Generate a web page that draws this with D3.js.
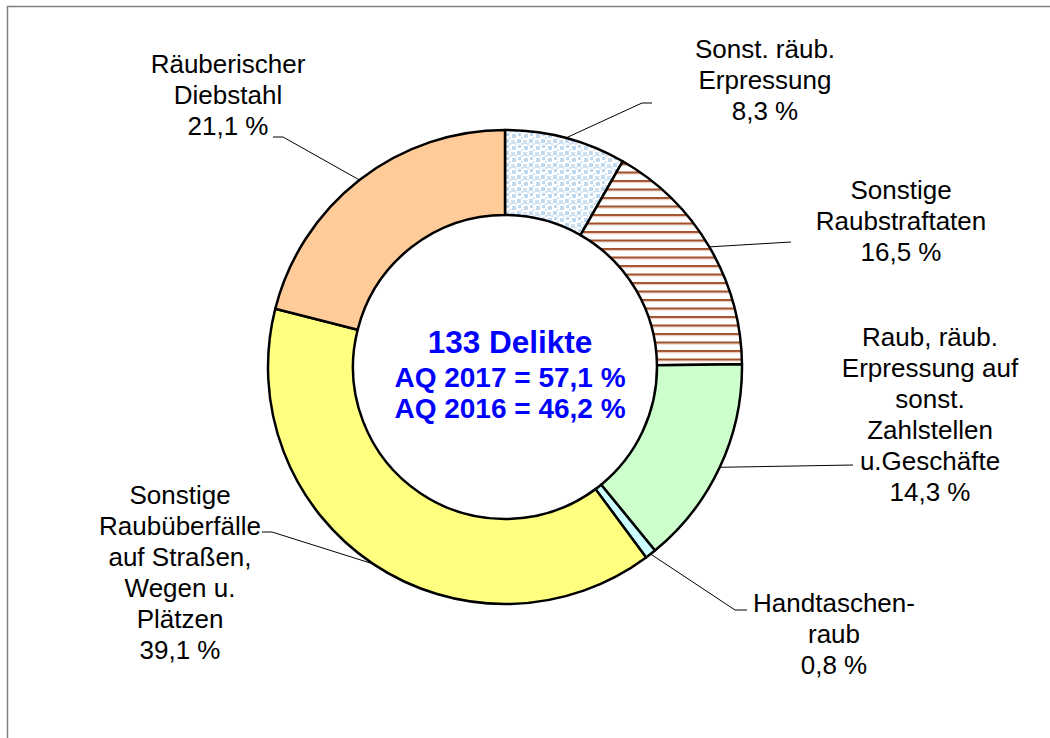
<!DOCTYPE html>
<html>
<head>
<meta charset="utf-8">
<script src="https://cdn.jsdelivr.net/npm/d3@7"></script>
<style>
  body { margin: 0; background: #fff; }
  svg { display: block; font-family: "Liberation Sans", Arial, sans-serif; }
</style>
</head>
<body>
<div id="chart"></div>
<script>
// slice data, clockwise from 12 o'clock
const categories = ['Sonst. räub. Erpressung', 'Sonstige Raubstraftaten', 'Raub, räub. Erpressung auf sonst. Zahlstellen u.Geschäfte', 'Handtaschenraub', 'Sonstige Raubüberfälle auf Straßen, Wegen u. Plätzen', 'Räuberischer Diebstahl'];
const counts = [11, 22, 19, 1, 52, 28];
const percents = ['8,3 %', '16,5 %', '14,3 %', '0,8 %', '39,1 %', '21,1 %'];
const labelLines = [
    ['Sonst. räub.', 'Erpressung'],
    ['Sonstige', 'Raubstraftaten'],
    ['Raub, räub.', 'Erpressung auf', 'sonst.', 'Zahlstellen', 'u.Geschäfte'],
    ['Handtaschen-', 'raub'],
    ['Sonstige', 'Raubüberfälle', 'auf Straßen,', 'Wegen u.', 'Plätzen'],
    ['Räuberischer', 'Diebstahl']
];
const centerLines = ['133 Delikte', 'AQ 2017 = 57,1 %', 'AQ 2016 = 46,2 %'];

const fills = ['url(#dots)', 'url(#stripes)', '#CCFFCC', '#CCFFFF', '#FFFF80', '#FFCC99'];

// label layout: text centre x, first baseline, leader end point and elbow
const labelPos = [
    {x: 765, y: 58, end: [652, 103], elbow: [642, 103]},
    {x: 901, y: 199, end: [791, 242], elbow: null},
    {x: 930, y: 346, end: [853, 465], elbow: null},
    {x: 834, y: 612, end: [747, 610], elbow: [735, 610]},
    {x: 180, y: 504, end: [262, 532], elbow: [272, 532]},
    {x: 228, y: 73, end: [273, 137], elbow: [283, 137]}
];

const width = 1050, height = 738;
const cx = 505, cy = 367, outerR = 237, innerR = 152;
const lineH = 31;

const svg = d3.select('#chart').append('svg')
    .attr('width', width)
    .attr('height', height);

const defs = svg.append('defs');

// dotted fill
const dots = defs.append('pattern')
    .attr('id', 'dots')
    .attr('patternUnits', 'userSpaceOnUse')
    .attr('width', 12).attr('height', 12);
dots.append('rect').attr('width', 12).attr('height', 12).attr('fill', '#fff');
[[0, 0, 4, '#C2DAF0'], [6, 1, 4, '#CFE2F3'], [1, 6, 3, '#BDD7EE'], [7, 7, 4, '#C2DAF0'], [4, 10, 2, '#D3E4F4'], [10, 4, 2, '#D3E4F4'], [4, 4, 2, '#CFE2F3']]
    .forEach(d => dots.append('rect')
        .attr('x', d[0]).attr('y', d[1])
        .attr('width', d[2]).attr('height', d[2])
        .attr('fill', d[3]));

// horizontal stripes
const stripes = defs.append('pattern')
    .attr('id', 'stripes')
    .attr('patternUnits', 'userSpaceOnUse')
    .attr('width', 10).attr('height', 8.5);
stripes.append('rect').attr('width', 10).attr('height', 8.5).attr('fill', '#fff');
stripes.append('rect').attr('y', 0).attr('width', 10).attr('height', 2).attr('fill', '#A0522D');
stripes.append('rect').attr('y', 2).attr('width', 10).attr('height', 1).attr('fill', '#E3C2B2');

// frame
svg.append('rect')
    .attr('x', 7.5).attr('y', 6.5)
    .attr('width', 1100).attr('height', 800)
    .attr('fill', 'none')
    .attr('stroke', '#7f7f7f')
    .attr('stroke-width', 1.5);

const pie = d3.pie().sort(null).value(d => d);
const arcs = pie(counts);
const arc = d3.arc().innerRadius(innerR).outerRadius(outerR);

const g = svg.append('g').attr('transform', `translate(${cx},${cy})`);

g.selectAll('path.slice')
    .data(arcs)
    .join('path')
    .attr('class', 'slice')
    .attr('d', arc)
    .attr('fill', (d, i) => fills[i])
    .attr('stroke', '#000')
    .attr('stroke-width', 2.5)
    .attr('stroke-linejoin', 'round');

// leader lines from slice midpoint on outer edge
arcs.forEach((d, i) => {
    const a = (d.startAngle + d.endAngle) / 2;
    const p0 = [cx + outerR * Math.sin(a), cy - outerR * Math.cos(a)];
    const lp = labelPos[i];
    const pts = [p0];
    if (lp.elbow) pts.push(lp.elbow);
    pts.push(lp.end);
    svg.append('path')
        .attr('d', d3.line()(pts))
        .attr('fill', 'none')
        .attr('stroke', '#000')
        .attr('stroke-width', 1);
});

// labels
labelLines.forEach((lines, i) => {
    const lp = labelPos[i];
    const t = svg.append('text')
        .attr('text-anchor', 'middle')
        .attr('font-size', 26)
        .attr('fill', '#000');
    lines.concat([percents[i]]).forEach((s, j) => {
        t.append('tspan')
            .attr('x', lp.x)
            .attr('y', lp.y + j * lineH)
            .text(s);
    });
});

// centre text
const centerY = [353, 387, 418];
const centerSize = [31.5, 28, 28];
centerLines.forEach((s, j) => {
    svg.append('text')
        .attr('x', cx + 5)
        .attr('y', centerY[j])
        .attr('text-anchor', 'middle')
        .attr('font-weight', 'bold')
        .attr('font-size', centerSize[j])
        .attr('fill', '#0000FF')
        .text(s);
});
</script>
</body>
</html>
